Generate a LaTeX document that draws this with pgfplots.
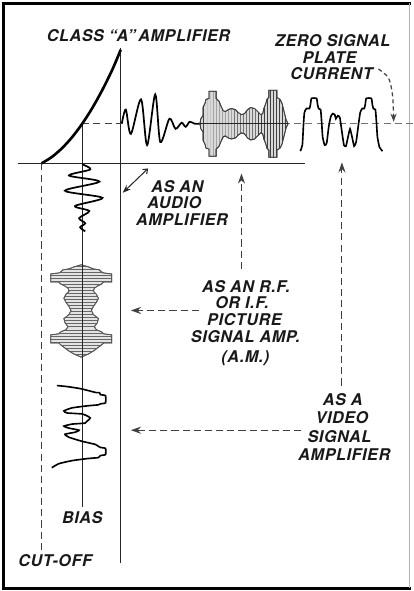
\documentclass[border=0pt]{standalone}
\usepackage{fontspec}
\usepackage{pgfplots}
\pgfplotsset{compat=1.18}
\usetikzlibrary{arrows.meta,patterns}
\newfontfamily\lab{TeX Gyre Heros}[LetterSpace=3.5]
\newcommand\lf{\lab\bfseries\itshape\fontsize{16}{18}\selectfont}
\tikzset{lbl/.style={anchor=west, inner sep=0pt, font=\lf, text=black!90}}
\begin{document}
\begin{tikzpicture}
\begin{axis}[scale only axis, width=412bp, height=591bp,
  xmin=0, xmax=412, ymin=0, ymax=591, y dir=reverse,
  hide axis, clip=false, enlargelimits=false,
  ln/.style={no marks, draw=black!85, line width=1bp},
  dsh/.style={no marks, draw=black!75, line width=1.1bp, dash pattern=on 7bp off 4bp},
  wave/.style={no marks, draw=black, line width=1.7bp, smooth}]
% frame
\addplot[no marks, black, line width=3bp] coordinates {(7,6.5)(7,586)};
\addplot[no marks, black, line width=3bp] coordinates {(5.5,8)(409,8)};
\addplot[no marks, black, line width=2.5bp] coordinates {(5.5,585)(409,585)};
\addplot[no marks, black!30, line width=0.8bp] coordinates {(408,8)(408,585)};
% axes of the characteristic
\addplot[ln] coordinates {(22,166)(305,166)};
\addplot[ln] coordinates {(123,52)(123,560)};
\addplot[ln] coordinates {(85,127)(85,505)};
\addplot[dsh] coordinates {(85,127)(123,127)};
\addplot[dsh, draw=black!55, line width=0.9bp] coordinates {(195,127)(411,127)};
\addplot[dsh] coordinates {(45,166)(45,548)};
% characteristic curve
\addplot[no marks, black, line width=2.6bp, smooth] coordinates {(45,166)(55,159.8)(65,151.2)(75,140.3)(85,127)(95,111.4)(105,93.4)(115,73)(123,54)};
% audio output
\addplot[wave] coordinates {(124,127)(128,113)(133,137)(143,103)(149,148)(157,98)(162,145)(171,122)(177,132)(183,126)(187,130)(191,125)(196,127)(201,127)};
% audio input
\addplot[wave] coordinates {(85,167)(93,172)(72,178)(102,184)(68,193)(105,200)(78,208)(92,213)(82,220)(88,225)(83,229)(88,233)};
% RF output envelope
\addplot[no marks, draw=black!75, line width=0.8bp, fill=gray!30, postaction={pattern=vertical lines, pattern color=black!75}] coordinates {
(201,127)(202,122)(204,119)(204,111)(206,107)(207,103)(210,102)(210,95)(217,95)(217,102)(220,105)(222,110)(224,114)(226,115)(229,113)(232,112)(236,113)(239,116)(242,118)(245,117)(248,113)(251,111)(255,112)(258,115)(261,118)(263,117)(264,112)(266,107)(267,103)(269,101)(269,94)(277,94)(277,101)(280,103)(282,107)(283,111)(285,119)(286,123)(288,127)
(286,131)(285,135)(283,143)(282,147)(280,151)(277,153)(277,160)(269,160)(269,153)(267,151)(266,147)(264,142)(263,137)(261,136)(258,139)(255,142)(251,143)(248,141)(245,137)(242,136)(239,138)(236,141)(232,142)(229,141)(226,139)(224,140)(222,144)(220,149)(217,152)(217,159)(210,159)(210,152)(207,151)(206,147)(204,143)(204,135)(202,132)} -- cycle;
\addplot[no marks, draw=black!85, line width=1.3bp] coordinates {(201,127)(288,127)};
% RF input envelope
\addplot[no marks, draw=black!65, line width=0.8bp, fill=gray!22, postaction={pattern=horizontal lines, pattern color=black!60}] coordinates {
(84,266)(77,268)(72,270)(66,271)(64,273)(62,274)(54,275)(54,283)(62,283)(64,285)(68,287)(71,289)(72,292)(69,295)(67,299)(69,303)(72,307)(74,311)(72,315)(67,319)(68,323)(71,327)(69,330)(64,332)(62,334)(54,335)(54,343)(62,343)(64,345)(68,348)(72,351)(77,354)(84,357)
(91,354)(96,351)(100,348)(104,345)(106,343)(114,343)(114,335)(106,334)(104,332)(99,330)(97,327)(100,323)(101,319)(96,315)(94,311)(96,307)(99,303)(101,299)(99,295)(96,292)(97,289)(100,287)(104,285)(106,283)(114,283)(114,275)(106,274)(104,273)(102,271)(96,270)(91,268)} -- cycle;
\addplot[ln] coordinates {(85,262)(85,362)};
% video output
\addplot[wave, line width=1.6bp, tension=0.3] coordinates {(300,154)(302,148)(303,130)(304,116)(306,112)(309,112)(310,108)(311,102)(316,102)(317,108)(318,112)(320,113)(321,125)(322,140)(324,148)(326,146)(328,130)(330,120)(332,117)(334,118)(335,122)(337,119)(339,121)(341,135)(343,148)(345,149)(347,140)(349,132)(351,140)(353,149)(355,145)(357,130)(359,116)(361,112)(363,112)(364,108)(365,102)(370,102)(371,108)(372,112)(374,113)(375,125)(376,140)(378,150)(381,154)};
% video input
\addplot[wave, line width=1.6bp, tension=0.3] coordinates {(60,385)(70,386)(83,388)(95,391)(99,392)(102,392)(103,394)(108,395)(108,402)(103,403)(101,404)(90,405)(75,407)(67,410)(70,412)(85,413)(90,415)(93,417)(90,420)(88,422)(75,423)(67,425)(72,427)(82,429)(78,431)(68,433)(72,436)(85,440)(98,443)(101,445)(103,446)(108,447)(108,453)(103,454)(101,456)(90,457)(75,459)(62,462)(55,466)};
% arrows
\addplot[no marks, black!85, line width=1bp, {Stealth[length=8bp,width=6bp]}-{Straight Barb[length=4bp,width=6bp]}] coordinates {(125,195)(150,171)};
\addplot[dsh, -{Stealth[length=10bp,width=7bp]}] coordinates {(242,270)(242,176)};
\addplot[dsh, -{Stealth[length=10bp,width=7bp]}] coordinates {(341,385)(341,165)};
\addplot[dsh, -{Stealth[length=10bp,width=7bp]}] coordinates {(200,311)(133,311)};
\addplot[dsh, -{Stealth[length=10bp,width=7bp]}] coordinates {(301,429)(133,429)};
\addplot[dsh, smooth, line width=1.2bp, dash pattern=on 4bp off 3bp, -{Stealth[length=8bp,width=6bp]}] coordinates {(377,73)(387,82)(391,100)(392,125)};
% labels
\node[lbl] at (axis cs:50,40) {CLASS “A”\,AMPLIFIER};
\node[lbl] at (axis cs:275,45) {ZERO SIGNAL};
\node[lbl] at (axis cs:302,62) {PLATE};
\node[lbl] at (axis cs:290,78) {CURRENT};
\node[lbl] at (axis cs:153,189) {AS AN};
\node[lbl] at (axis cs:149,205) {AUDIO};
\node[lbl] at (axis cs:138,221) {AMPLIFIER};
\node[lbl] at (axis cs:203,287) {AS AN R.F.};
\node[lbl] at (axis cs:216,303) {OR I.F.};
\node[lbl] at (axis cs:208,320) {PICTURE};
\node[lbl] at (axis cs:192,337) {SIGNAL AMP.};
\node[lbl] at (axis cs:222,358) {(A.M.)};
\node[lbl] at (axis cs:322,399) {AS A};
\node[lbl] at (axis cs:315,417) {VIDEO};
\node[lbl] at (axis cs:307,435) {SIGNAL};
\node[lbl] at (axis cs:298,453) {AMPLIFIER};
\node[lbl] at (axis cs:65,515) {BIAS};
\node[lbl] at (axis cs:22,558) {CUT-OFF};
\end{axis}
\end{tikzpicture}
\end{document}
